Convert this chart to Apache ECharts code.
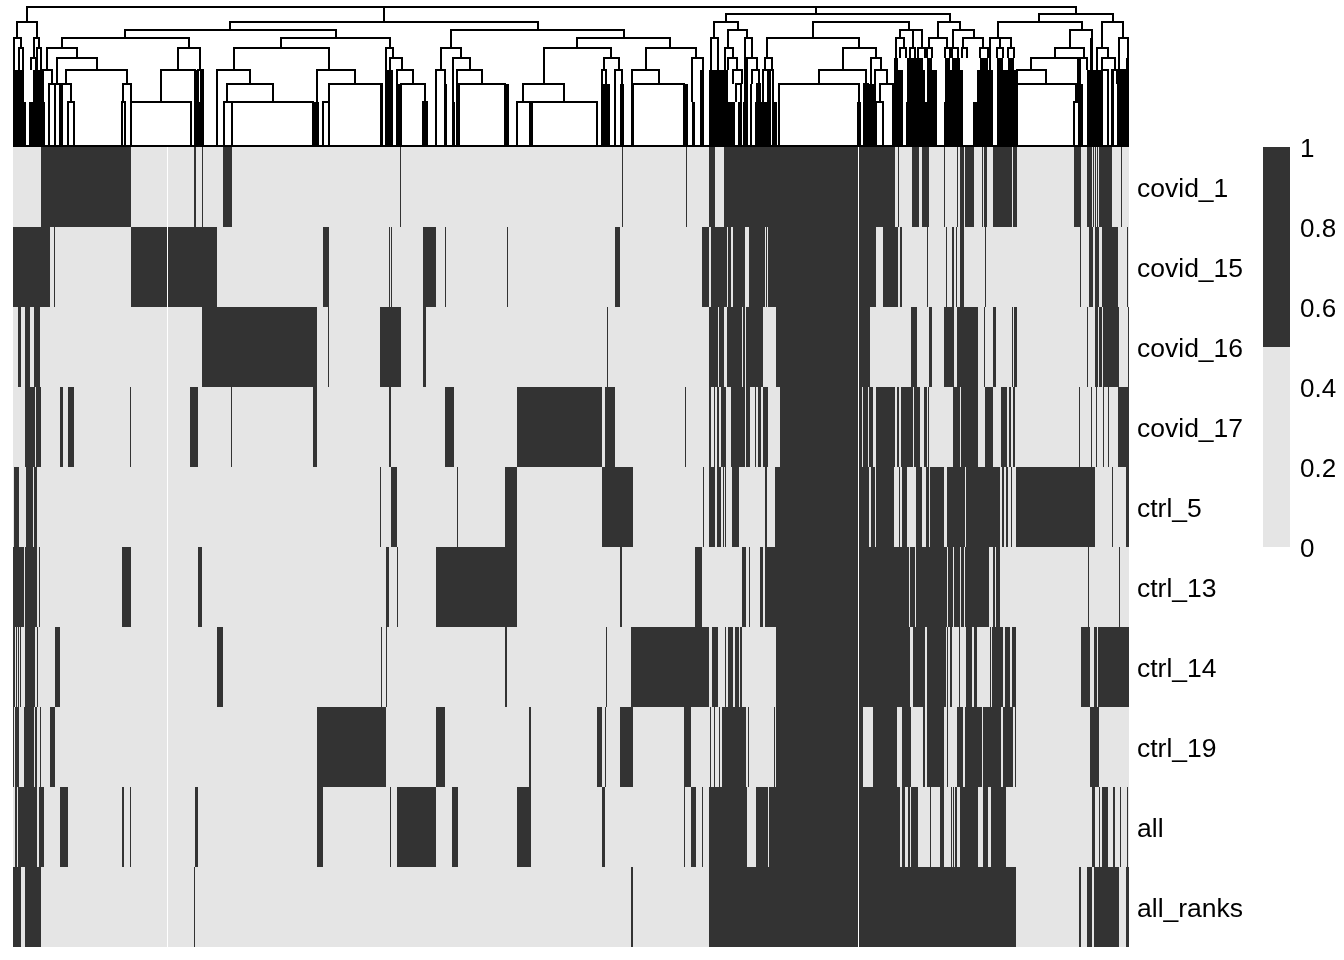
<!DOCTYPE html>
<html><head><meta charset="utf-8">
<style>html,body{margin:0;padding:0;background:#fff}#c{width:1344px;height:960px}</style>
<script src="https://cdn.jsdelivr.net/npm/echarts@6/dist/echarts.min.js"></script>
</head><body><div id="c"></div>
<script>
const rowNames = ['covid_1','covid_15','covid_16','covid_17','ctrl_5','ctrl_13','ctrl_14','ctrl_19','all','all_ranks'];
const columnRange = [13, 1129];
const gapColumns = [[167,168],[858,859]];
const covid_1 = [[41,131],[194,196],[202,203],[223,232],[400,401],[622,623],[686,687],[709,715],[724,895],[898,899],[912,919],[922,929],[944,945],[957,958],[960,964],[965,974],[982,983],[984,987],[993,1012],[1013,1017],[1074,1081],[1087,1092],[1093,1094],[1095,1096],[1097,1098],[1099,1112],[1121,1122]];
const covid_15 = [[13,50],[54,55],[131,217],[323,329],[389,390],[391,392],[423,436],[445,446],[507,508],[615,620],[702,709],[711,727],[728,731],[733,745],[749,765],[766,767],[768,876],[883,898],[900,902],[927,928],[946,947],[952,954],[956,957],[960,964],[985,986],[1080,1081],[1089,1093],[1095,1099],[1102,1118],[1127,1128]];
const covid_16 = [[18,21],[25,30],[34,40],[202,317],[328,329],[380,401],[423,426],[607,608],[709,718],[719,724],[727,742],[743,745],[746,763],[776,870],[911,917],[929,930],[930,932],[944,954],[957,978],[984,985],[993,996],[1012,1013],[1014,1017],[1087,1088],[1095,1098],[1099,1102],[1103,1119],[1128,1129]];
const covid_17 = [[25,35],[36,41],[60,63],[68,74],[130,131],[190,198],[231,232],[313,317],[389,391],[445,454],[517,602],[605,615],[685,686],[709,711],[714,715],[717,719],[721,726],[731,745],[746,750],[755,756],[758,761],[763,768],[780,862],[863,868],[869,873],[876,895],[897,899],[901,913],[914,920],[924,927],[928,929],[953,960],[961,978],[985,993],[1001,1007],[1009,1011],[1013,1015],[1079,1080],[1091,1092],[1096,1097],[1103,1104],[1108,1109],[1118,1129]];
const ctrl_5 = [[14,19],[26,33],[34,37],[380,381],[391,397],[457,458],[505,517],[602,633],[703,704],[709,715],[717,721],[723,724],[725,726],[732,739],[765,767],[775,865],[865,869],[871,875],[876,894],[899,900],[902,907],[916,922],[926,929],[930,944],[947,965],[966,1000],[1002,1004],[1006,1008],[1011,1012],[1016,1095],[1112,1113],[1126,1129]];
const ctrl_13 = [[13,24],[25,37],[39,40],[122,131],[198,202],[386,389],[397,398],[436,517],[620,622],[695,702],[742,746],[749,750],[760,763],[765,909],[910,915],[916,947],[948,953],[954,960],[961,964],[965,989],[993,995],[996,1000],[1088,1089],[1119,1120]];
const ctrl_14 = [[13,15],[16,17],[18,19],[20,21],[25,35],[37,38],[55,60],[217,223],[381,382],[386,387],[505,507],[606,607],[631,709],[712,718],[725,726],[728,733],[735,739],[740,742],[776,910],[913,925],[927,946],[947,948],[950,952],[959,960],[966,972],[974,977],[990,991],[992,1003],[1005,1010],[1012,1016],[1081,1090],[1094,1097],[1098,1129]];
const ctrl_19 = [[13,14],[15,19],[24,34],[35,37],[40,41],[50,55],[317,386],[436,445],[529,531],[597,602],[605,606],[620,633],[684,691],[710,711],[714,715],[719,720],[722,746],[748,749],[774,775],[776,863],[873,897],[902,911],[923,925],[927,944],[947,948],[957,963],[965,982],[983,1001],[1003,1013],[1015,1016],[1090,1099]];
const all = [[15,17],[18,37],[39,44],[60,68],[122,124],[130,131],[195,198],[317,323],[390,391],[397,436],[452,458],[517,531],[602,605],[684,685],[691,696],[702,703],[709,747],[756,768],[769,900],[902,905],[908,910],[911,918],[930,931],[940,944],[951,952],[953,954],[955,957],[960,978],[983,988],[991,1006],[1092,1095],[1099,1100],[1102,1108],[1113,1115],[1120,1121],[1127,1128]];
const all_ranks = [[13,21],[25,41],[194,195],[631,633],[709,1016],[1079,1081],[1087,1092],[1094,1119],[1126,1129]];

const dendroBaseline = 146;
// each merge: left leaf, right leaf, merge depth, left child depth, right child depth
const merges = [
[27,384,7,22,22],[384,816,7,22,14],[816,1076,7,14,14],
[17,37,22,38,38],[14,21,38,70,48],[19,23,48,70,70],[34,39,38,58,48],[31,36,58,70,70],[37,41,48,70,70],
[230,538,22,30,30],[125,336,30,38,38],[62,189,38,48,48],[47,77,48,70,58],[43,52,70,146,84],[49,55,84,146,146],
[57,97,58,84,70],[55,60,84,146,146],[66,127,70,84,84],[60,71,84,146,102],[68,74,102,146,146],[123,131,84,102,146],[122,125,102,146,146],
[178,200,48,70,70],[161,195,70,102,146],[131,191,102,146,146],[198,203,70,146,146],
[281,390,38,48,48],[234,329,48,70,70],[217,250,70,146,84],[227,273,84,102,102],[224,232,102,146,146],[232,313,102,146,146],
[317,355,70,146,84],[329,382,84,146,146],[323,329,102,146,146],
[386,393,48,70,58],[390,402,58,146,70],[397,413,70,146,84],[401,425,84,146,102],[423,427,102,146,146],
[451,624,30,48,38],[441,461,48,70,58],[436,445,70,146,146],[453,470,58,146,70],[457,482,70,146,84],[459,505,84,146,146],
[577,670,38,48,48],[544,611,48,84,58],[523,564,84,102,102],[517,530,102,146,146],[532,597,102,146,146],[604,619,58,70,70],[602,606,70,146,146],[615,622,70,146,146],
[646,696,48,70,58],[632,659,70,146,84],[633,684,84,146,146],[692,703,58,102,70],
[726,950,14,22,22],[714,738,22,38,30],[711,718,38,70,70],[728,747,30,48,38],[725,733,48,70,58],[728,737,58,70,70],[733,742,70,84,84],[736,741,84,102,146],[745,752,38,146,58],[747,757,58,146,70],[752,759,70,84,102],[757,760,84,146,146],
[813,909,22,38,30],[767,859,38,58,48],[765,772,58,70,70],[763,768,70,146,146],[770,773,70,146,146],
[843,876,48,70,58],[819,866,70,84,84],[779,859,84,146,146],[864,868,84,146,146],[871,881,58,146,70],[875,887,70,146,84],[880,893,84,102,146],[876,883,102,146,146],[867,875,102,146,146],
[900,913,30,38,48],[913,922,30,48,48],[896,904,38,58,48],[900,906,48,58,58],[910,915,48,58,58],[918,925,48,58,58],
[938,960,22,38,30],[929,947,38,48,48],[927,932,48,58,58],[945,950,48,58,58],[953,974,30,48,38],[952,958,48,58,58],[963,983,38,48,48],[962,967,48,58,58],[980,988,48,58,58],
[1039,1113,14,22,22],[998,1082,22,38,30],[990,1000,38,70,48],[1000,1011,38,48,48],[997,1003,48,58,58],[1008,1014,48,58,58],
[1070,1092,30,48,38],[1055,1084,48,58,58],[1031,1078,58,70,102],[1017,1046,70,146,84],[1017,1076,84,146,102],[1074,1081,102,146,146],[1080,1087,58,102,70],
[1102,1123,22,48,38],[1097,1108,48,146,58],[1102,1115,58,70,70],[1102,1108,70,146,146],[1112,1117,70,146,84],[1119,1128,38,146,58],[1121,1125,70,146,146],
[13,1129,146,146,146]
];
// tight bundles of leaves that merge into solid black: first leaf, last leaf, merge depth
const leafBundles = [
[13,24,70],[33,43,70],[29,45,102],[24,26,102],[61,63,84],[194,197,70],[200,203,70],[194,204,102],[313,316,102],[318,319,102],
[380,383,84],[385,393,70],[396,401,84],[423,427,102],[444,447,84],[452,455,102],[505,509,84],[602,610,84],[620,624,84],[632,634,84],[683,688,84],[692,695,102],[700,704,70],
[709,728,70],[709,735,102],[738,742,102],[743,747,102],[750,752,84],[755,770,102],[774,777,102],[857,861,102],[864,875,84],
[894,903,70],[907,925,70],[927,937,70],[945,963,70],[977,993,70],[1000,1017,70],
[894,903,102],[906,933,102],[944,963,102],[973,990,102],[998,1017,102],
[894,898,58],[907,923,58],[927,932,58],[945,950,58],[952,960,58],[980,988,58],[997,1003,58],[1008,1014,58],
[1087,1101,70],[1101,1103,102],[1112,1114,70],[1117,1119,70],[1121,1125,70],[1126,1129,58],[1078,1083,84],[1090,1093,38]
];

const legendTicks = [0,0.2,0.4,0.6,0.8,1];
const legendSteps = [0.5,0.5];
const darkColor = '#333333', lightColor = '#E5E5E5';
const rowRuns = [covid_1,covid_15,covid_16,covid_17,ctrl_5,ctrl_13,ctrl_14,ctrl_19,all,all_ranks];

function cells(runsPerRow){
  const out=[];
  runsPerRow.forEach((runs,r)=>runs.forEach(run=>out.push([run[0],run[1],r])));
  return out;
}
function rectRender(color){
  return function(params,api){
    const a=api.coord([api.value(0),api.value(2)]);
    const b=api.coord([api.value(1),api.value(2)]);
    const h=api.size([0,1])[1];
    return {type:'rect',shape:{x:a[0],y:a[1]-h/2,width:b[0]-a[0],height:h},style:{fill:color}};
  };
}
const chart=echarts.init(document.getElementById('c'),null,{renderer:'canvas'});
const font='"Liberation Sans",Arial,sans-serif';
chart.setOption({
  animation:false,
  backgroundColor:'#fff',
  grid:[
    {left:13,top:147,width:1116,height:800},
    {left:13,top:0,width:1116,height:146},
    {left:1263,top:147,width:27,height:400}
  ],
  xAxis:[
    {gridIndex:0,type:'value',min:columnRange[0],max:columnRange[1],show:false},
    {gridIndex:1,type:'value',min:columnRange[0],max:columnRange[1],show:false},
    {gridIndex:2,type:'category',data:['scale'],show:false}
  ],
  yAxis:[
    {gridIndex:0,type:'category',inverse:true,data:rowNames,position:'right',
     axisLine:{show:false},axisTick:{show:false},splitLine:{show:false},
     axisLabel:{margin:8,color:'#000',fontFamily:font,fontSize:26.5,interval:0,verticalAlign:'top',lineHeight:6}},
    {gridIndex:1,type:'value',inverse:true,min:0,max:dendroBaseline,show:false},
    {gridIndex:2,type:'value',min:0,max:1,interval:0.2,position:'right',
     axisLine:{show:false},axisTick:{show:false},splitLine:{show:false},
     axisLabel:{margin:10,color:'#000',fontFamily:font,fontSize:26,verticalAlign:'top',lineHeight:6,
       formatter:v=>{const t=legendTicks.find(k=>Math.abs(k-v)<1e-9);return String(t);}}}
  ],
  series:[
    {type:'custom',xAxisIndex:0,yAxisIndex:0,coordinateSystem:'cartesian2d',silent:true,clip:true,
     data:rowNames.map((n,i)=>[columnRange[0],columnRange[1],i]),renderItem:rectRender(lightColor),encode:{x:[0,1],y:2},z:1},
    {type:'custom',xAxisIndex:0,yAxisIndex:0,coordinateSystem:'cartesian2d',silent:true,clip:true,
     data:cells(rowRuns),renderItem:rectRender(darkColor),encode:{x:[0,1],y:2},z:2},
    {type:'custom',xAxisIndex:0,yAxisIndex:0,coordinateSystem:'cartesian2d',silent:true,clip:true,
     data:cells(rowNames.map(()=>gapColumns)),renderItem:rectRender('#FFFFFF'),encode:{x:[0,1],y:2},z:3},
    {type:'custom',xAxisIndex:1,yAxisIndex:1,coordinateSystem:'cartesian2d',silent:true,
     data:leafBundles,encode:{x:[0,1],y:2},z:4,
     renderItem(params,api){
       const a=api.coord([api.value(0),api.value(2)]);
       const b=api.coord([api.value(1),dendroBaseline]);
       return {type:'rect',shape:{x:a[0],y:a[1],width:b[0]-a[0],height:b[1]-a[1]},style:{fill:'#000'}};
     }},
    {type:'custom',xAxisIndex:1,yAxisIndex:1,coordinateSystem:'cartesian2d',silent:true,
     data:merges,encode:{x:[0,1],y:[2,3,4]},z:5,
     renderItem(params,api){
       const pts=[[api.value(0),api.value(3)],[api.value(0),api.value(2)],[api.value(1),api.value(2)],[api.value(1),api.value(4)]].map(p=>api.coord(p));
       return {type:'polyline',shape:{points:pts},style:{fill:null,stroke:'#000',lineWidth:2}};
     }},
    {type:'bar',xAxisIndex:2,yAxisIndex:2,stack:'scale',barWidth:'100%',silent:true,data:[legendSteps[0]],itemStyle:{color:lightColor}},
    {type:'bar',xAxisIndex:2,yAxisIndex:2,stack:'scale',barWidth:'100%',silent:true,data:[legendSteps[1]],itemStyle:{color:darkColor}}
  ]
});
</script></body></html>
